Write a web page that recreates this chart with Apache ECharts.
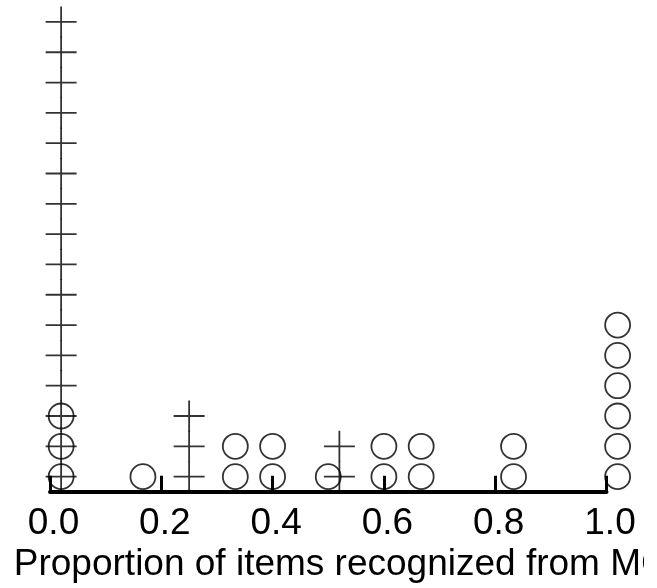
<!DOCTYPE html>
<html>
<head>
<meta charset="utf-8">
<script src="https://cdn.jsdelivr.net/npm/echarts@6/dist/echarts.min.js"></script>
<style>
html,body{margin:0;padding:0;background:#fff;}
#chart{width:657px;height:588px;}
</style>
</head>
<body>
<div id="chart"></div>
<script>
// Stripchart (stacked) data: x position and number of stacked points
const circleX = [0.02, 0.167, 0.333, 0.4, 0.5, 0.6, 0.667, 0.833, 1.02];
const circleCounts = [3, 1, 2, 2, 1, 2, 2, 2, 6];
const crossX = [0.02, 0.25, 0.52];
const crossCounts = [16, 3, 2];
const xTickLabels = ['0.0', '0.2', '0.4', '0.6', '0.8', '1.0'];
const xTitle = 'Proportion of items recognized from MC';

function stackPoints(xs, counts) {
  const pts = [];
  xs.forEach((x, i) => {
    for (let k = 0; k < counts[i]; k++) pts.push([x, k]);
  });
  return pts;
}

const chart = echarts.init(document.getElementById('chart'));
const FONT = '"Liberation Sans", Arial, sans-serif';
chart.setOption({
  backgroundColor: '#fff',
  animation: false,
  grid: { left: 50, width: 556.5, top: 6.8, height: 485, containLabel: false, outerBoundsMode: 'none' },
  xAxis: {
    type: 'value', min: 0, max: 1, interval: 0.2,
    splitLine: { show: false },
    axisLine: { show: true, onZero: false, lineStyle: { color: '#000', width: 4 } },
    axisTick: { show: true, inside: true, length: 16, lineStyle: { color: '#000', width: 3 } },
    axisLabel: {
      color: '#000', fontSize: 37, fontFamily: FONT, margin: 13,
      padding: [0, 0, 0, 7],
      formatter: (v) => xTickLabels[Math.round(v / 0.2)]
    },
    name: xTitle, nameLocation: 'middle', nameGap: 52,
    nameTextStyle: { color: '#000', fontSize: 37, fontFamily: FONT, padding: [0, 0, 0, 25] }
  },
  yAxis: {
    type: 'value', min: -0.5, max: 15.5, show: false,
    splitLine: { show: false }
  },
  graphic: [
    { type: 'rect', right: 0, bottom: 0, shape: { width: 13, height: 45 }, style: { fill: '#fff' }, z: 100 }
  ],
  series: [
    {
      type: 'scatter', clip: false,
      data: stackPoints(crossX, crossCounts),
      symbol: 'path://M0,15 L30,15 M15,0 L15,30',
      symbolSize: 31,
      itemStyle: { color: 'transparent', borderColor: '#000', borderWidth: 1.8 }
    },
    {
      type: 'scatter', clip: false,
      data: stackPoints(circleX, circleCounts),
      symbol: 'circle', symbolSize: 25,
      itemStyle: { color: 'transparent', borderColor: '#000', borderWidth: 1.8 }
    }
  ]
});
</script>
</body>
</html>
